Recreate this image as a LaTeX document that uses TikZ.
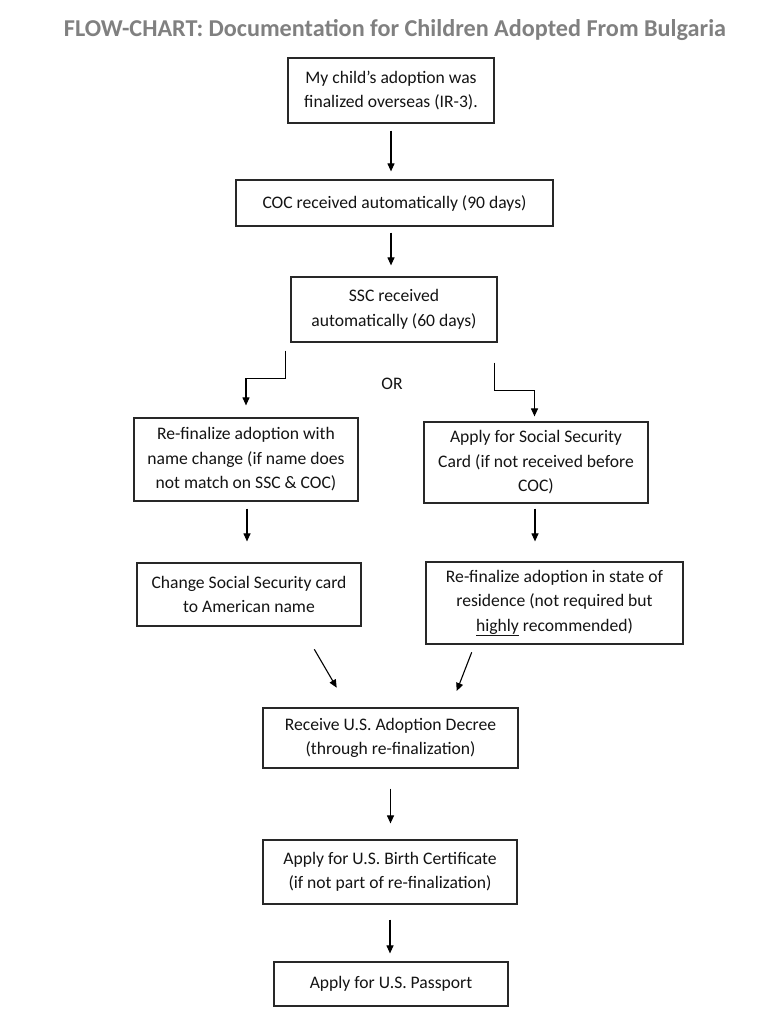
\documentclass[tikz,border=0pt]{standalone}
\usepackage{fontspec}
\setmainfont{Carlito}
\usetikzlibrary{arrows.meta,calc}
\definecolor{titlegray}{RGB}{128,128,128}
\definecolor{linegray}{RGB}{40,40,40}
\definecolor{textdark}{RGB}{20,20,20}
\tikzset{
  stepbox/.style={draw=linegray, line width=1.2pt, align=center, inner sep=0pt,
    font={\fontsize{17.6}{24.5}\selectfont}, text=textdark},
  flowarrow/.style={draw=black, line width=1.1pt, -{Triangle[length=8pt,width=7pt]}},
}
\begin{document}
\begin{tikzpicture}[x=1pt,y=1pt]
\useasboundingbox (0,0) rectangle (779,-1024);
\fill[white] (0,0) rectangle (779,-1024);

\node[anchor=base, font={\fontsize{24.2}{28}\selectfont\bfseries}, text=titlegray] (title) at (395,-36.7)
  {FLOW-CHART: Documentation for Children Adopted From Bulgaria};

\node[stepbox, minimum width=206pt, minimum height=65pt] (b1) at (391,-90.5)
  {My child’s adoption was\\finalized overseas (IR-3).};
\node[stepbox, minimum width=317pt, minimum height=46pt] (b2) at (394.5,-203)
  {COC received automatically (90 days)};
\node[stepbox, minimum width=206pt, minimum height=65pt] (b3) at (394,-309.5)
  {SSC received\\automatically (60 days)};
\node[font={\fontsize{17.6}{24.5}\selectfont}, text=textdark] (or) at (392,-384) {OR};
\node[stepbox, minimum width=224pt, minimum height=83pt] (b4) at (246,-459.5)
  {Re-finalize adoption with\\name change (if name does\\not match on SSC \& COC)};
\node[stepbox, minimum width=224pt, minimum height=81pt] (b5) at (536,-462.5)
  {Apply for Social Security\\Card (if not received before\\COC)};
\node[stepbox, minimum width=224pt, minimum height=63pt] (b6) at (249,-594.5)
  {Change Social Security card\\to American name};
\node[stepbox, minimum width=257pt, minimum height=82pt] (b7) at (554.5,-603)
  {Re-finalize adoption in state of\\residence (not required but\\\underline{highly} recommended)};
\node[stepbox, minimum width=255pt, minimum height=60pt] (b8) at (390.5,-738)
  {Receive U.S. Adoption Decree\\(through re-finalization)};
\node[stepbox, minimum width=254pt, minimum height=64pt] (b9) at (390,-872)
  {Apply for U.S. Birth Certificate\\(if not part of re-finalization)};
\node[stepbox, minimum width=234pt, minimum height=44pt] (b10) at (391,-984)
  {Apply for U.S. Passport};

% straight arrows
\draw[flowarrow, shorten <=7pt, shorten >=8pt] (b1.south) -- (b1.south |- b2.north);
\draw[flowarrow, shorten <=6pt, shorten >=11pt] (b1.south |- b2.south) -- (b1.south |- b3.north);

% elbow arrows
\coordinate (ls) at ($(b3.south west)+(-5,-8)$);
\draw[flowarrow, shorten >=12pt] (ls) -- ++(0,-28) -| (b4.north);
\coordinate (rs) at ($(b3.south east)+(-3,-20)$);
\draw[flowarrow, shorten >=5pt] (rs) -- ++(0,-28) -| ([xshift=-1.5pt]b5.north);

\draw[flowarrow, shorten <=7pt, shorten >=21pt] ([xshift=1pt]b4.south) -- ([xshift=1pt]b4.south |- b6.north);
\draw[flowarrow, shorten <=5pt, shorten >=20pt] ([xshift=-1pt]b5.south) -- ([xshift=-1pt]b5.south |- b7.north);

% diagonal arrows
\coordinate (d1s) at (314.3,-649.3);
\coordinate (d1e) at (336.7,-687.7);
\coordinate (d2s) at (471.7,-652.3);
\coordinate (d2e) at (456.7,-691);
\draw[flowarrow] (d1s) -- (d1e);
\draw[flowarrow] (d2s) -- (d2e);

\draw[flowarrow, shorten <=20pt, shorten >=16pt] (b8.south) -- (b8.south |- b9.north);
\draw[flowarrow, shorten <=15pt, shorten >=8pt] (b9.south) -- (b9.south |- b10.north);
\end{tikzpicture}
\end{document}
